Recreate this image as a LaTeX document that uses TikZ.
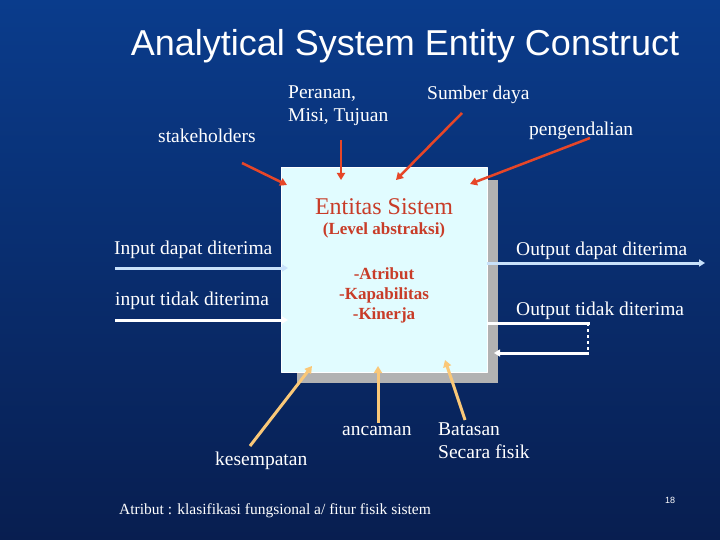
\documentclass[tikz,border=0pt]{standalone}
\usepackage{fontspec}
\setmainfont{Liberation Serif}
\newfontfamily\titlefont{Liberation Sans}
\usetikzlibrary{arrows.meta}
\definecolor{bgtop}{RGB}{10,60,140}
\definecolor{bgbot}{RGB}{8,30,80}
\definecolor{boxfill}{RGB}{225,252,255}
\definecolor{redarr}{RGB}{230,70,40}
\definecolor{orangearr}{RGB}{250,200,120}
\definecolor{lightarr}{RGB}{200,225,250}
\definecolor{redtext}{RGB}{200,60,40}
\tikzset{
  lbl/.style={text=white,font=\fontsize{19.5}{23}\selectfont,align=left,inner sep=1pt},
  redline/.style={redarr,line width=2.5pt,-{Triangle[length=7pt,width=8pt]}},
  orangeline/.style={orangearr,line width=3pt,-{Triangle[length=7pt,width=8pt]}},
  ioline/.style={line width=3pt,-{Triangle[length=6pt,width=7pt]}}
}
\begin{document}
\begin{tikzpicture}[x=1pt,y=-1pt,line join=round]
\shade[top color=bgtop,bottom color=bgbot] (0,0) rectangle (720,540);
\useasboundingbox (0,0) rectangle (720,540);
\node[text=white] (title) at (405,46) {\titlefont\fontsize{36}{40}\selectfont Analytical System Entity Construct};
% box with shadow
\fill[gray!60] (297,180) rectangle (498,383);
\draw[white,fill=boxfill] (281,167) rectangle (487,372);
\node[text=redtext,font=\fontsize{24}{27}\selectfont] (ent) at (384,207) {Entitas Sistem};
\node[text=redtext,font=\bfseries\fontsize{17}{19}\selectfont] (lvl) at (384,230) {(Level abstraksi)};
\node[text=redtext,font=\bfseries\fontsize{17}{20}\selectfont,align=center] (attr) at (384,295) {-Atribut\\-Kapabilitas\\-Kinerja};
% labels
\node[lbl,anchor=west] (stk) at (157,136) {stakeholders};
\node[lbl,anchor=west] (per) at (287,106) {Peranan,\\Misi, Tujuan};
\node[lbl,anchor=west] (sum) at (426,95) {Sumber daya};
\node[lbl,anchor=west] (pen) at (528,131) {pengendalian};
\node[lbl,anchor=west] (ind) at (113,250) {Input dapat diterima};
\node[lbl,anchor=west] (int) at (114,301) {input tidak diterima};
\node[lbl,anchor=west] (outd) at (515,251) {Output dapat diterima};
\node[lbl,anchor=west] (outt) at (515,311) {Output tidak diterima};
\node[lbl,anchor=west] (anc) at (341,431) {ancaman};
\node[lbl,anchor=west] (bat) at (437,441) {Batasan\\Secara fisik};
\node[lbl,anchor=west] (kes) at (214,461) {kesempatan};
\node[text=white,anchor=west,inner sep=1pt,font=\fontsize{15.5}{18}\selectfont] (note) at (118,511) {Atribut : klasifikasi fungsional a/ fitur fisik sistem};
\node[text=white,font=\titlefont\fontsize{9}{10}\selectfont] (pg) at (670,500) {18};
% top arrows
\coordinate (t1) at (287,185); \coordinate (t2) at (341,180);
\coordinate (t3) at (396,180); \coordinate (t4) at (470,184);
\draw[redline] (242,163) -- (t1);
\draw[redline] (341,140) -- (t2);
\draw[redline] (462,113) -- (t3);
\draw[redline] (590,138) -- (t4);
% inputs and outputs
\draw[ioline,lightarr] (115,268) -- (288,268);
\draw[ioline,white] (115,320) -- (288,320);
\draw[ioline,lightarr] (487,263) -- (705,263);
\draw[white,line width=3pt] (487,323) -- (590,323);
\draw[white,line width=1.2pt,dashed] (588,323) -- (588,353);
\draw[ioline,white] (589,353) -- (494,353);
% bottom arrows
\draw[orangeline] (250,446) -- (312,366);
\draw[orangeline] (378,423) -- (378,366);
\draw[orangeline] (465,420) -- (445,360);
\end{tikzpicture}
\end{document}
